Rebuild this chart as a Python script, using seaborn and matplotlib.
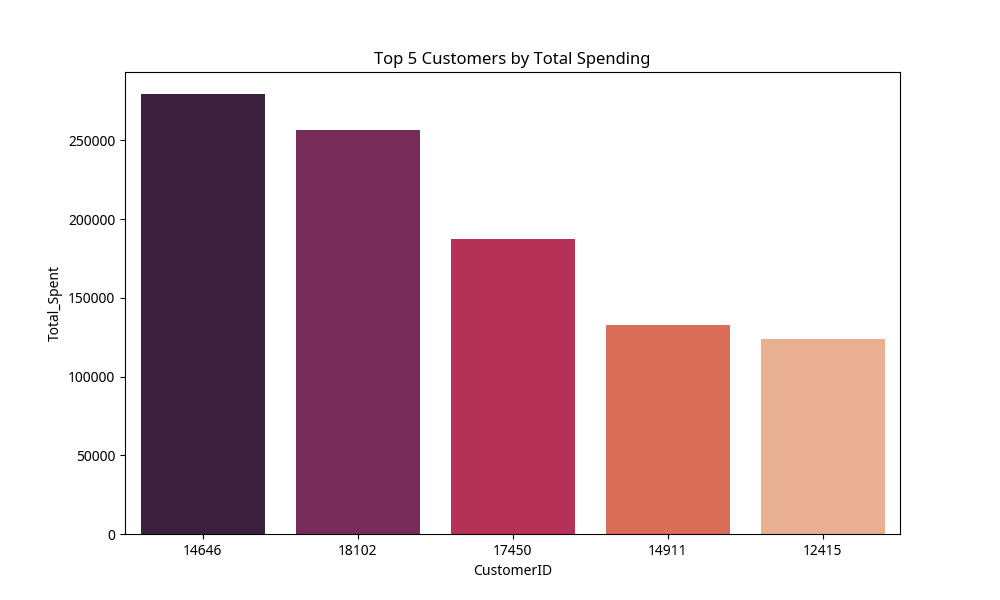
import matplotlib
matplotlib.use("Agg")
import matplotlib.pyplot as plt
import pandas as pd
import seaborn as sns

plt.rcParams['font.family'] = ['Noto Sans', 'DejaVu Sans']

# top customers, values
customer_ids = ['14646', '18102', '17450', '14911', '12415']
total_spent = [279500, 256500, 187500, 133000, 124000]

df = pd.DataFrame({'CustomerID': customer_ids, 'Total_Spent': total_spent})

fig, ax = plt.subplots(figsize=(10, 6), dpi=100)
sns.barplot(data=df, x='CustomerID', y='Total_Spent', hue='CustomerID',
            palette='rocket', legend=False, ax=ax)
ax.set_title('Top 5 Customers by Total Spending')
ax.set_xlabel('CustomerID')
ax.set_ylabel('Total_Spent')

fig.savefig('out.png', dpi=100)
